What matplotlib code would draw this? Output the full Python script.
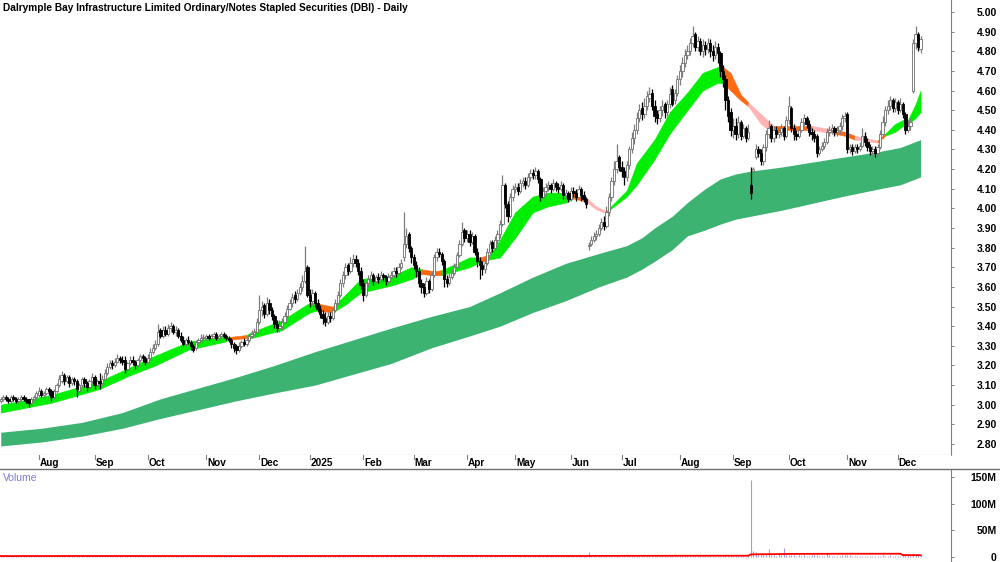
import matplotlib
matplotlib.use("Agg")
import matplotlib.pyplot as plt
import numpy as np
import pandas as pd

plt.rcParams['font.family'] = ['Liberation Sans', 'DejaVu Sans']

# ---------------- data (prices in cents) ----------------
closes = [
 303,304,303,302,304,303,302,303,304,303, 302,301,303,304,306,307,305,306,308,307,
 304,307,310,313,315,312,314,311,313,312, 308,310,313,311,309,312,314,310,312,311,
 313,316,319,321,320,322,324,323,322,318, 321,323,322,320,323,325,324,322,324,327,
 329,331,337,335,338,336,339,340,337,338, 335,333,331,333,332,330,328,332,333,334,
 334,335,334,335,336,334,335,336,335,334, 333,331,329,328,330,332,331,333,335,336,
 337,342,348,350,346,352,348,345,341,339, 340,342,345,349,352,355,354,357,360,363,
 368,356,353,357,352,349,346,344,342,345, 344,348,352,356,362,366,370,368,372,374,
 372,368,361,356,362,364,366,363,365,364, 366,365,363,365,366,368,367,370,372,382,
 386,380,375,371,368,362,360,357,363,359, 366,375,378,377,373,364,362,365,367,370,
 376,382,388,385,387,383,386,378,373,371, 369,372,378,382,380,384,387,392,412,402,
 396,406,410,411,409,413,414,412,416,418, 417,419,415,406,409,411,412,410,413,411,
 410,412,407,408,405,409,408,406,410,407, 405,402,381,384,386,387,390,393,391,398,
 406,414,420,424,421,419,416,422,430,436, 440,446,450,448,452,457,458,452,447,446,
 450,452,449,453,458,453,459,466,470,474, 478,480,484,488,482,485,480,483,481,484,
 480,478,482,479,470,466,455,447,440,442, 438,444,437,441,436,439,408,420,430,428,
 424,431,438,441,436,440,438,439,441,437, 445,452,441,438,437,440,444,446,443,439,
 438,436,428,430,432,434,439,440,441,439, 440,442,446,447,430,431,429,431,430,432,
 437,434,431,429,430,428,431,438,444,450, 452,455,451,454,450,453,448,440,442,444,
 484,489,482,486]
opens = [
 302,303,304,303,302,304,303,302,303,304, 303,303,301,303,304,305,307,305,306,308,
 307,304,307,310,312,315,312,314,311,313, 312,307,310,313,311,309,312,314,310,312,
 311,313,316,319,321,320,322,324,323,323, 318,321,323,322,320,323,325,324,322,324,
 327,329,331,338,335,338,336,339,340,337, 338,335,333,331,333,332,330,329,332,333,
 334,334,335,334,335,336,334,335,336,335, 334,333,331,330,328,330,332,331,333,335,
 336,337,342,348,351,346,352,348,345,341, 339,340,342,345,349,352,356,354,357,360,
 363,370,356,353,357,352,349,346,344,342, 345,344,348,352,356,362,366,371,368,372,
 374,372,368,362,356,362,364,366,363,365, 364,366,365,363,365,366,368,367,370,375,
 382,387,380,375,371,368,362,360,357,363, 359,366,375,378,377,373,364,362,365,367,
 370,376,382,389,385,387,383,386,378,373, 371,369,372,378,383,380,384,387,392,412,
 402,396,406,410,411,409,413,414,412,416, 418,417,419,415,406,409,411,412,410,413,
 411,410,412,407,408,405,409,408,406,410, 407,405,381,382,384,386,387,390,393,391,
 398,406,414,420,426,421,419,416,422,430, 436,440,446,451,448,452,456,459,452,448,
 446,450,453,449,453,461,455,459,466,470, 474,478,480,484,489,482,485,480,483,481,
 484,480,478,482,479,470,466,455,449,440, 442,438,444,437,441,436,412,419,426,430,
 428,424,431,438,442,436,440,438,439,441, 437,445,451,441,438,437,440,444,446,443,
 439,438,437,428,430,432,434,439,440,441, 439,440,442,446,448,430,431,429,431,430,
 432,437,434,431,429,430,428,431,438,444, 450,452,455,451,454,450,453,448,440,442,
 460,484,489,481]
highs = [
 304,305,305,304,305,305,304,304,305,305, 304,303,304,305,307,309,308,307,309,309,
 308,308,311,315,317,316,315,315,314,314, 313,311,314,314,312,313,316,315,313,316,
 315,318,321,323,323,324,326,325,325,325, 322,325,325,323,324,326,326,325,326,329,
 331,333,341,339,340,340,341,342,341,340, 339,337,335,334,335,333,331,333,334,336,
 336,336,336,336,337,337,336,337,337,336, 335,334,332,331,332,333,334,334,336,338,
 339,344,356,353,352,355,354,350,346,343, 343,344,347,351,354,357,358,359,362,366,
 381,371,359,359,358,354,351,348,347,347, 347,350,354,358,364,368,372,372,375,377,
 376,374,370,364,363,366,368,367,366,367, 368,367,366,367,368,370,370,372,374,398,
 390,388,381,377,373,370,364,362,365,364, 368,377,380,380,378,374,366,367,369,372,
 378,384,393,390,389,389,388,387,380,375, 373,374,380,384,384,386,389,394,417,413,
 404,408,412,413,413,415,416,416,418,420, 420,421,420,416,411,413,414,413,415,414,
 413,414,413,410,409,411,411,410,412,411, 409,406,383,386,388,389,392,395,396,401,
 408,416,424,433,427,424,421,424,432,439, 443,449,453,454,456,460,462,461,455,450,
 452,455,454,455,462,463,461,468,473,477, 481,483,487,493,490,488,487,486,485,487,
 486,483,485,484,480,473,468,457,451,446, 446,447,445,443,442,443,421,421,433,432,
 430,433,440,445,443,442,442,441,443,442, 447,457,452,443,440,442,446,448,447,445,
 441,440,438,432,434,436,441,442,443,442, 442,444,448,449,449,433,433,433,433,434,
 441,439,436,433,432,432,433,440,447,452, 455,457,456,456,455,456,454,449,445,446,
 486,493,490,488]
lows = [
 301,302,302,301,301,302,301,301,302,302, 301,299,300,302,303,304,304,304,305,305,
 302,303,306,309,311,310,311,309,310,310, 304,306,309,309,307,308,311,308,309,308,
 310,312,315,318,318,319,321,321,320,316, 317,320,320,318,319,322,322,320,321,323,
 326,328,330,334,334,335,335,337,336,335, 334,332,330,330,331,328,327,328,331,332,
 333,333,333,333,334,333,333,334,334,333, 332,329,327,326,327,329,330,330,332,334,
 335,336,341,345,344,345,346,343,339,337, 337,338,341,344,348,350,352,353,356,358,
 362,355,350,351,350,347,344,341,340,341, 342,343,347,351,355,360,364,366,367,370,
 370,366,359,353,355,360,362,361,362,362, 362,363,361,362,364,365,365,366,369,373,
 380,378,372,369,365,360,357,355,356,357, 358,365,373,375,371,360,360,361,364,366,
 369,375,381,383,383,381,382,376,370,364, 366,367,371,376,378,379,382,385,391,400,
 393,395,404,408,407,408,411,410,411,414, 415,415,413,404,405,407,409,408,409,409,
 408,409,405,405,403,404,406,404,405,404, 403,400,379,381,383,384,386,389,389,390,
 396,404,412,418,419,416,412,414,420,428, 433,438,444,445,446,450,454,450,444,443,
 444,447,446,447,451,452,453,457,463,467, 472,476,478,482,480,480,478,477,478,479,
 477,475,476,474,467,462,450,444,437,436, 435,436,435,436,434,435,405,418,425,426,
 422,422,429,436,434,434,436,436,437,435, 436,443,439,435,435,436,439,442,441,437,
 435,434,426,427,429,430,433,437,438,437, 437,438,440,444,428,428,427,428,428,429,
 431,432,429,427,427,426,427,430,436,442, 448,450,449,449,448,449,446,438,439,440,
 459,481,480,479]
# volume in millions
volumes = [
 1.8,1.5,2.2,1.2,1.6,2.0,1.4,1.7,2.5,1.3, 1.9,2.8,1.5,1.6,2.1,1.8,1.2,1.5,2.4,1.7,
 2.6,1.9,2.2,1.6,3.1,1.8,1.5,2.0,1.4,1.7, 2.3,1.9,1.6,1.4,2.0,1.5,1.8,2.2,1.3,1.6,
 1.9,2.4,1.7,1.5,2.0,1.6,2.2,1.4,1.8,2.6, 1.5,1.7,1.3,2.0,1.6,1.4,1.9,1.5,1.2,2.1,
 2.4,1.8,3.2,1.6,1.9,1.5,1.7,2.2,1.4,1.6, 1.8,1.5,2.0,1.3,1.6,1.9,2.3,1.4,1.5,1.7,
 1.2,1.4,1.1,1.6,1.3,1.5,1.2,1.4,1.7,1.3, 1.5,1.9,2.2,2.6,1.8,1.6,1.4,1.7,1.9,2.1,
 1.8,2.5,3.4,2.2,2.0,2.6,1.9,1.7,2.1,1.6, 1.5,1.8,1.6,2.0,1.7,2.2,1.9,1.6,2.3,2.5,
 4.1,3.0,2.2,1.9,1.7,2.0,1.8,2.1,1.6,1.5, 1.7,1.9,2.2,2.0,2.4,2.1,2.6,1.8,2.0,2.3,
 1.9,2.2,2.8,2.5,1.8,1.6,1.7,1.5,1.4,1.6, 1.5,1.3,1.6,1.4,1.2,1.5,1.7,1.8,2.0,3.6,
 2.8,2.2,2.0,1.9,1.8,2.4,2.1,2.6,1.9,1.7, 2.0,2.3,1.9,1.6,1.8,2.5,1.9,1.7,1.5,1.6,
 1.9,2.2,2.6,1.8,1.7,1.9,1.6,2.0,2.2,2.4, 1.8,1.6,1.9,2.0,1.7,1.8,2.1,2.3,4.5,2.9,
 2.6,2.2,2.0,1.8,1.7,1.9,1.6,1.5,1.8,2.0, 1.7,1.6,1.8,2.4,1.9,1.5,1.6,1.4,1.7,1.5,
 1.6,1.4,1.8,1.5,1.9,1.6,1.5,1.7,1.4,1.8, 2.2,2.0,8.5,3.2,2.4,2.0,1.9,2.2,1.8,2.5,
 2.6,2.9,2.4,4.2,2.3,2.0,2.2,2.1,2.7,2.5, 2.3,2.6,2.4,2.0,2.2,2.5,2.1,2.4,2.3,1.9,
 2.0,1.8,2.1,1.9,2.4,2.2,1.8,2.3,2.6,2.4, 2.5,2.2,2.7,3.0,2.6,2.3,2.1,2.4,2.0,2.2,
 2.1,2.3,1.9,2.0,2.8,2.6,3.3,3.0,3.5,2.7, 2.9,2.6,2.5,2.3,2.8,3.2,145.0,11.0,10.0,4.5,
 3.8,4.2,3.6,15.0,3.2,3.0,2.8,8.0,3.4,17.0, 3.6,3.1,2.9,3.3,2.6,3.0,2.7,3.2,2.5,2.8,
 2.9,3.1,3.5,2.6,2.4,2.8,7.0,2.9,2.5,2.7, 2.6,2.3,2.9,3.0,4.2,3.1,2.8,2.5,2.6,2.4,
 2.2,2.5,2.6,2.3,2.1,2.4,2.2,2.8,3.0,2.7, 2.6,2.9,2.5,2.8,2.4,2.6,3.2,3.8,2.9,2.7,
 6.5,4.4,3.6,3.1]

# short-term trend ribbon read at sample bars (upper, lower, colour code)
ribbon_idx = [0,20,39,51,61,74,88,90,97,99,111,122,125,131,136,142,155,162,166,171,174,
              185,189,193,197,203,210,216,223,226,231,235,239,240,247,251,258,264,271,277,
              283,285,288,292,295,300,305,311,320,329,333,337,346,349,353,356,358,361,363]
ribbon_up = [3.00,3.05,3.12,3.19,3.25,3.32,3.35,3.345,3.355,3.37,3.43,3.52,3.515,3.50,3.56,3.64,
             3.66,3.70,3.69,3.68,3.685,3.75,3.75,3.765,3.84,3.98,4.06,4.08,4.08,4.075,4.055,
             4.01,3.985,4.00,4.09,4.23,4.35,4.49,4.59,4.69,4.72,4.72,4.69,4.58,4.54,4.48,
             4.42,4.42,4.42,4.40,4.39,4.37,4.345,4.38,4.43,4.45,4.45,4.53,4.60]
ribbon_lo = [2.96,3.01,3.08,3.15,3.20,3.28,3.32,3.33,3.34,3.34,3.38,3.47,3.48,3.47,3.51,3.57,
             3.61,3.64,3.665,3.66,3.66,3.70,3.725,3.74,3.75,3.85,3.98,4.01,4.03,4.05,4.035,
             3.995,3.975,3.99,4.06,4.12,4.25,4.38,4.50,4.60,4.64,4.64,4.60,4.55,4.52,4.43,
             4.38,4.40,4.40,4.38,4.37,4.35,4.335,4.37,4.39,4.42,4.43,4.46,4.49]
ribbon_col = ['g','g','g','g','g','g','g','o','g','g','g','g','o','g','g','g','g','g','o','o','g',
              'g','o','g','g','g','g','g','g','o','p','p','g','g','g','g','g','g','g','g',
              'g','o','o','o','p','p','o','o','p','o','o','p','o','g','g','g','g','g','g']

# long-term trend band read at sample bars
band_idx = [0,16,32,48,63,78,93,108,124,139,154,170,185,197,210,223,236,247,253,258,265,
            271,278,284,290,296,302,308,320,332,347,355,363]
band_up = [2.86,2.88,2.91,2.96,3.03,3.085,3.14,3.20,3.27,3.33,3.39,3.45,3.50,3.57,3.65,3.72,
           3.77,3.81,3.85,3.90,3.96,4.03,4.10,4.15,4.175,4.19,4.20,4.21,4.235,4.26,4.29,
           4.31,4.35]
band_lo = [2.79,2.81,2.84,2.88,2.93,2.975,3.02,3.06,3.10,3.155,3.21,3.29,3.35,3.40,3.47,3.53,
           3.60,3.65,3.69,3.73,3.79,3.86,3.89,3.92,3.945,3.96,3.975,3.99,4.025,4.06,4.10,
           4.12,4.16]

price_ticks = [2.8,2.9,3.0,3.1,3.2,3.3,3.4,3.5,3.6,3.7,3.8,3.9,4.0,4.1,4.2,4.3,4.4,4.5,4.6,4.7,4.8,4.9,5.0]
vol_ticks = [0, 50, 100, 150]
vol_labels = ['0', '50M', '100M', '150M']
title = "Dalrymple Bay Infrastructure Limited Ordinary/Notes Stapled Securities (DBI) - Daily"

# ---------------- dates ----------------
holidays = pd.to_datetime(["2024-12-25", "2024-12-26", "2025-01-01", "2025-01-27",
                           "2025-04-18", "2025-04-21", "2025-04-25", "2025-06-09"])
dates = pd.bdate_range("2024-07-11", "2025-12-31")
dates = dates[~dates.isin(holidays)]
n = min(len(closes), len(opens), len(highs), len(lows), len(volumes))
dates = dates[:n]
o = np.array(opens[:n]) / 100.0
h = np.array(highs[:n]) / 100.0
l = np.array(lows[:n]) / 100.0
c = np.array(closes[:n]) / 100.0
v = np.array(volumes[:n])
x = np.arange(n)

# ---------------- figure layout ----------------
W, H = 1000, 562
fig = plt.figure(figsize=(W / 100, H / 100), dpi=100)

def rect(x0, y0, x1, y1):
    return [x0 / W, 1 - y1 / H, (x1 - x0) / W, (y1 - y0) / H]

ax = fig.add_axes(rect(0, 0, 951, 455))
axd = fig.add_axes(rect(0, 455, 951, 469))
axv = fig.add_axes(rect(0, 469, 951, 562))

xmin, xmax = -0.3, 375.0
px_per_unit = 196.36
ax.set_xlim(xmin, xmax)
ax.set_ylim(5.00 - 443 / px_per_unit, 5.00 + 12 / px_per_unit)

# long band
ax.fill_between(band_idx, band_lo, band_up, color='#3cb371', lw=0, zorder=1)

# short ribbon
cmap = {'g': '#00ee00', 'o': '#ff6a13', 'p': '#ffb3b3'}
for k in range(len(ribbon_idx) - 1):
    col = cmap[ribbon_col[k]]
    ax.fill_between(ribbon_idx[k:k + 2], ribbon_lo[k:k + 2], ribbon_up[k:k + 2],
                    facecolor=col, edgecolor=col, lw=0.4, zorder=2)

# candles
up = c >= o
wick_lo = np.minimum(l, np.minimum(o, c))
wick_hi = np.maximum(h, np.maximum(o, c))
ax.vlines(x[up], wick_lo[up], wick_hi[up], color='#7d7d7d', lw=0.9, zorder=3)
ax.vlines(x[~up], wick_lo[~up], wick_hi[~up], color='#000000', lw=0.9, zorder=3)
body_h = np.maximum(np.abs(c - o), 0.004)
body_b = np.minimum(o, c)
ax.bar(x[up], body_h[up], bottom=body_b[up], width=0.9, color='white',
       edgecolor='#6e6e6e', lw=0.6, zorder=4)
ax.bar(x[~up], body_h[~up], bottom=body_b[~up], width=0.9, color='black',
       edgecolor='black', lw=0.6, zorder=4)

# price axis styling
for s in ['left', 'top']:
    ax.spines[s].set_visible(False)
ax.spines['right'].set_color('#808080')
ax.spines['bottom'].set_color('#a0a0a0')
ax.set_xticks([])
ax.yaxis.tick_right()
ax.set_yticks(price_ticks)
ax.set_yticklabels(['%.2f' % t for t in price_ticks])
ax.tick_params(axis='y', length=2.5, width=0.7, color='#808080', pad=30.5,
               labelsize=7.5)
for lab in ax.get_yticklabels():
    lab.set_horizontalalignment('right')
    lab.set_fontweight('bold')

# date strip
axd.set_xlim(xmin, xmax)
axd.set_ylim(0, 1)
axd.set_xticks([]); axd.set_yticks([])
for s in axd.spines.values():
    s.set_visible(False)
months = dates.to_period('M')
starts = [i for i in range(1, n) if months[i] != months[i - 1]]
for i in starts:
    d = dates[i]
    lab = str(d.year) if d.month == 1 else d.strftime('%b')
    axd.plot([i, i], [1.0, 0.72], color='#808080', lw=0.8)
    axd.text(i + 0.4, 0.42, lab, ha='left', va='center', fontsize=7.2,
             fontweight='bold', color='black')

# volume
axv.set_xlim(xmin, xmax)
axv.set_ylim(-5 / 0.5333, 150 + 8 / 0.5333)
axv.vlines(x, 0, v, color='#9a9ae6', lw=0.8, zorder=2)
vma = pd.Series(v).rolling(60, min_periods=1).mean()
axv.plot(x, vma, color='#ff0000', lw=1.3, zorder=3)
for s in ['left', 'top', 'bottom']:
    axv.spines[s].set_visible(False)
axv.spines['right'].set_color('#808080')
axv.set_xticks([])
axv.yaxis.tick_right()
axv.set_yticks(vol_ticks)
axv.set_yticklabels(vol_labels)
axv.tick_params(axis='y', length=2.5, width=0.7, color='#808080', pad=30.5,
                labelsize=7.5)
for lab in axv.get_yticklabels():
    lab.set_horizontalalignment('right')
    lab.set_fontweight('bold')
axv.text(3 / 951, 1 - 9 / 93, 'Volume', transform=axv.transAxes,
         ha='left', va='center', fontsize=7.5, color='#7b7bc8')

# separator line across full width
fig.add_artist(plt.Line2D([0, 1], [1 - 469 / H, 1 - 469 / H], color='#707070', lw=1.0))

fig.text(3 / W, 1 - 8 / H, title, ha='left', va='center', fontsize=7.3,
         fontweight='bold', color='black')

fig.savefig('out.png', dpi=100)
